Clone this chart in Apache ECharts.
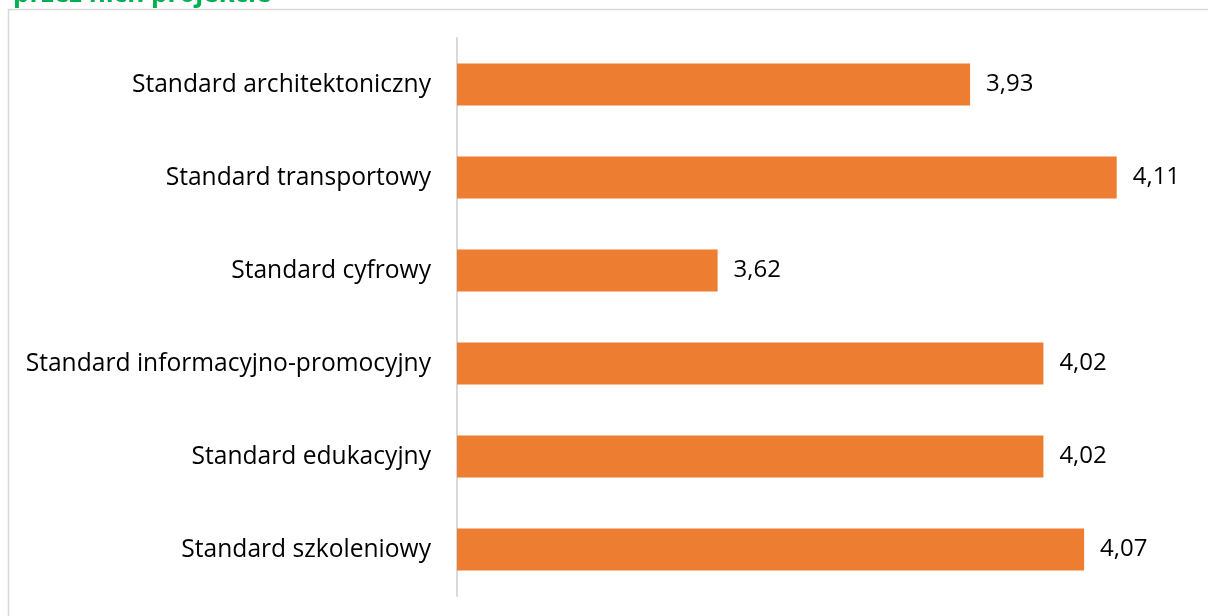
<!DOCTYPE html>
<html>
<head>
<meta charset="utf-8">
<script src="https://cdn.jsdelivr.net/npm/echarts@6/dist/echarts.min.js"></script>
<style>
  html, body { margin: 0; padding: 0; background: #fff; }
  #chart { width: 1208px; height: 616px; }
</style>
</head>
<body>
<div id="chart"></div>
<script>
// dane
const categories = [
  'Standard architektoniczny',
  'Standard transportowy',
  'Standard cyfrowy',
  'Standard informacyjno-promocyjny',
  'Standard edukacyjny',
  'Standard szkoleniowy'
];
const values = [3.93, 4.11, 3.62, 4.02, 4.02, 4.07];
const titleText = 'przez nich projekcie';

const chart = echarts.init(document.getElementById('chart'));

const option = {
  animation: false,
  title: {
    text: titleText,
    left: 8,
    top: -23,
    textStyle: { color: '#00B050', fontSize: 26, fontWeight: 'bold', fontFamily: 'Open Sans' }
  },
  graphic: [{
    type: 'rect',
    shape: { x: 8.5, y: 9.5, width: 1240, height: 640 },
    style: { fill: 'none', stroke: '#d9d9d9', lineWidth: 1.5 },
    silent: true,
    z: -1
  }],
  grid: { left: 457, right: 18, top: 38, bottom: 20, containLabel: false },
  xAxis: {
    type: 'value',
    min: 3.3,
    max: 4.2,
    show: false
  },
  yAxis: {
    type: 'category',
    data: categories,
    inverse: true,
    axisTick: { show: false },
    axisLine: { show: true, lineStyle: { color: '#d9d9d9', width: 2 } },
    axisLabel: {
      color: '#000',
      fontSize: 24.6,
      fontFamily: 'Open Sans',
      margin: 26
    }
  },
  series: [{
    type: 'bar',
    data: values,
    barWidth: '45%',
    itemStyle: { color: '#ED7D31' },
    label: {
      show: true,
      position: 'right',
      distance: 16,
      color: '#000',
      fontSize: 24,
      fontFamily: 'Open Sans',
      formatter: p => p.value.toFixed(2).replace('.', ',')
    }
  }]
};

chart.setOption(option);
</script>
</body>
</html>
